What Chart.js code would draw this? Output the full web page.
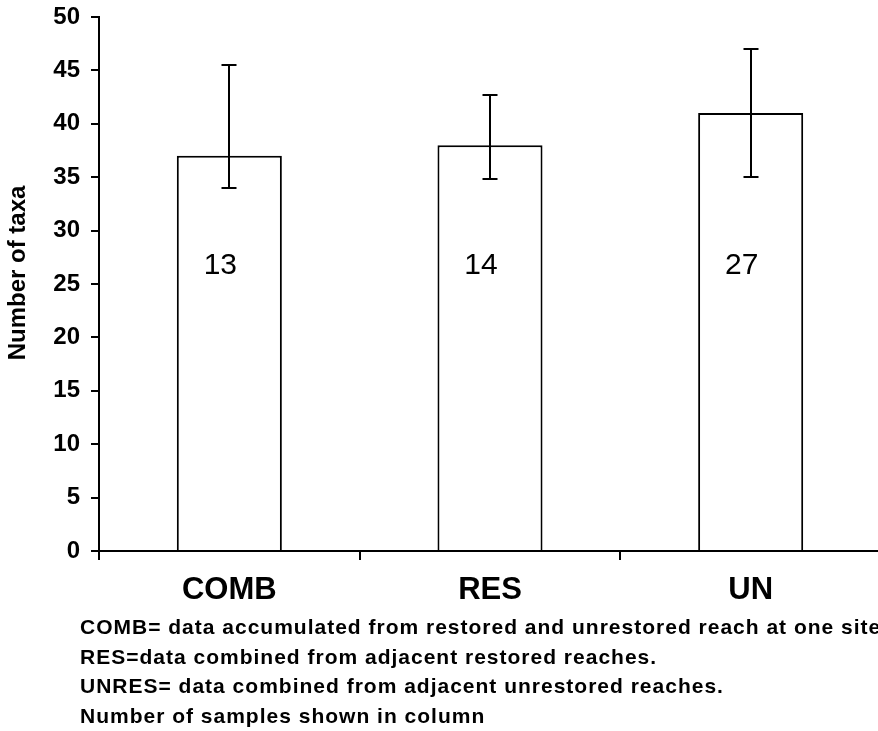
<!DOCTYPE html>
<html>
<head>
<meta charset="utf-8">
<script src="https://cdn.jsdelivr.net/npm/chart.js@4/dist/chart.umd.min.js"></script>
<style>
  html, body { margin: 0; padding: 0; background: #fff; overflow: hidden; }
  #wrap { width: 884px; height: 731px; }
</style>
</head>
<body>
<div id="wrap"><canvas id="chart" width="884" height="731"></canvas></div>
<script>
// Mean number of taxa per reach type, with the low/high range shown as error bars
const categories = ['COMB', 'RES', 'UN'];
const taxaMeans = [37, 38, 41];
const errLow = [34, 34.8, 35];
const errHigh = [45.5, 42.7, 47];
const sampleCounts = [13, 14, 27];
const yAxisTitle = 'Number of taxa';
const footnotes = [
  'COMB= data accumulated from restored and unrestored reach at one site',
  'RES=data combined from adjacent restored reaches.',
  'UNRES= data combined from adjacent unrestored reaches.',
  'Number of samples shown in column'
];

const FONT = '"Liberation Sans", Arial, Helvetica, sans-serif';

// Vertical range lines with caps, drawn over each column
const errorBars = {
  id: 'errorBars',
  afterDatasetsDraw(chart) {
    const ctx = chart.ctx;
    const y = chart.scales.y;
    const meta = chart.getDatasetMeta(0);
    ctx.save();
    ctx.strokeStyle = '#000';
    ctx.lineWidth = 2;
    meta.data.forEach((bar, i) => {
      const x = Math.round(bar.x);
      const yHi = Math.round(y.getPixelForValue(errHigh[i]));
      const yLo = Math.round(y.getPixelForValue(errLow[i]));
      const cap = 7.5;
      ctx.beginPath();
      ctx.moveTo(x, yHi); ctx.lineTo(x, yLo);
      ctx.moveTo(x - cap, yHi); ctx.lineTo(x + cap, yHi);
      ctx.moveTo(x - cap, yLo); ctx.lineTo(x + cap, yLo);
      ctx.stroke();
    });
    ctx.restore();
  }
};

// Sample counts written inside the columns, plus axis title and notes
const annotations = {
  id: 'annotations',
  afterDraw(chart) {
    const ctx = chart.ctx;
    const y = chart.scales.y;
    const meta = chart.getDatasetMeta(0);
    ctx.save();
    ctx.fillStyle = '#000';

    ctx.font = '30px ' + FONT;
    ctx.textAlign = 'center';
    ctx.textBaseline = 'middle';
    const labelY = y.getPixelForValue(26.7);
    meta.data.forEach((bar, i) => {
      ctx.fillText(String(sampleCounts[i]), bar.x - 9, labelY);
    });

    ctx.save();
    ctx.translate(18, 273);
    ctx.rotate(-Math.PI / 2);
    ctx.font = 'bold 24px ' + FONT;
    ctx.fillText(yAxisTitle, 0, 0);
    ctx.restore();

    ctx.font = 'bold 21px ' + FONT;
    ctx.textAlign = 'left';
    ctx.textBaseline = 'alphabetic';
    if ('letterSpacing' in ctx) ctx.letterSpacing = '1px';
    footnotes.forEach((line, i) => {
      ctx.fillText(line, 80, 634 + i * 29.5);
    });
    ctx.restore();
  }
};

new Chart(document.getElementById('chart'), {
  type: 'bar',
  data: {
    labels: categories,
    datasets: [{
      data: taxaMeans,
      backgroundColor: '#ffffff',
      borderColor: '#000000',
      borderWidth: 2,
      categoryPercentage: 1,
      barPercentage: 0.403
    }]
  },
  options: {
    responsive: false,
    animation: false,
    devicePixelRatio: 1,
    layout: { padding: { top: 17, right: 3, bottom: 0, left: 0 } },
    plugins: {
      legend: { display: false },
      tooltip: { enabled: false }
    },
    scales: {
      x: {
        offset: true,
        grid: {
          display: true,
          offset: true,
          drawOnChartArea: false,
          drawTicks: true,
          tickLength: 9,
          color: '#000',
          lineWidth: 2
        },
        border: { display: true, color: '#000', width: 2 },
        ticks: {
          color: '#000',
          padding: 12,
          font: { family: FONT, size: 31, weight: 'bold' }
        },
        afterFit(scale) {
          scale.height = 180;
          scale.paddingLeft = 0;
          scale.paddingRight = 0;
        }
      },
      y: {
        min: 0,
        max: 50,
        ticks: {
          stepSize: 5,
          color: '#000',
          padding: 11,
          font: { family: FONT, size: 24, weight: 'bold' }
        },
        grid: {
          display: true,
          drawOnChartArea: false,
          drawTicks: true,
          tickLength: 8,
          color: '#000',
          lineWidth: 2
        },
        border: { display: true, color: '#000', width: 2 },
        afterFit(scale) {
          scale.width = 99;
          scale.paddingTop = 0;
          scale.paddingBottom = 0;
        }
      }
    }
  },
  plugins: [errorBars, annotations]
});
</script>
</body>
</html>
